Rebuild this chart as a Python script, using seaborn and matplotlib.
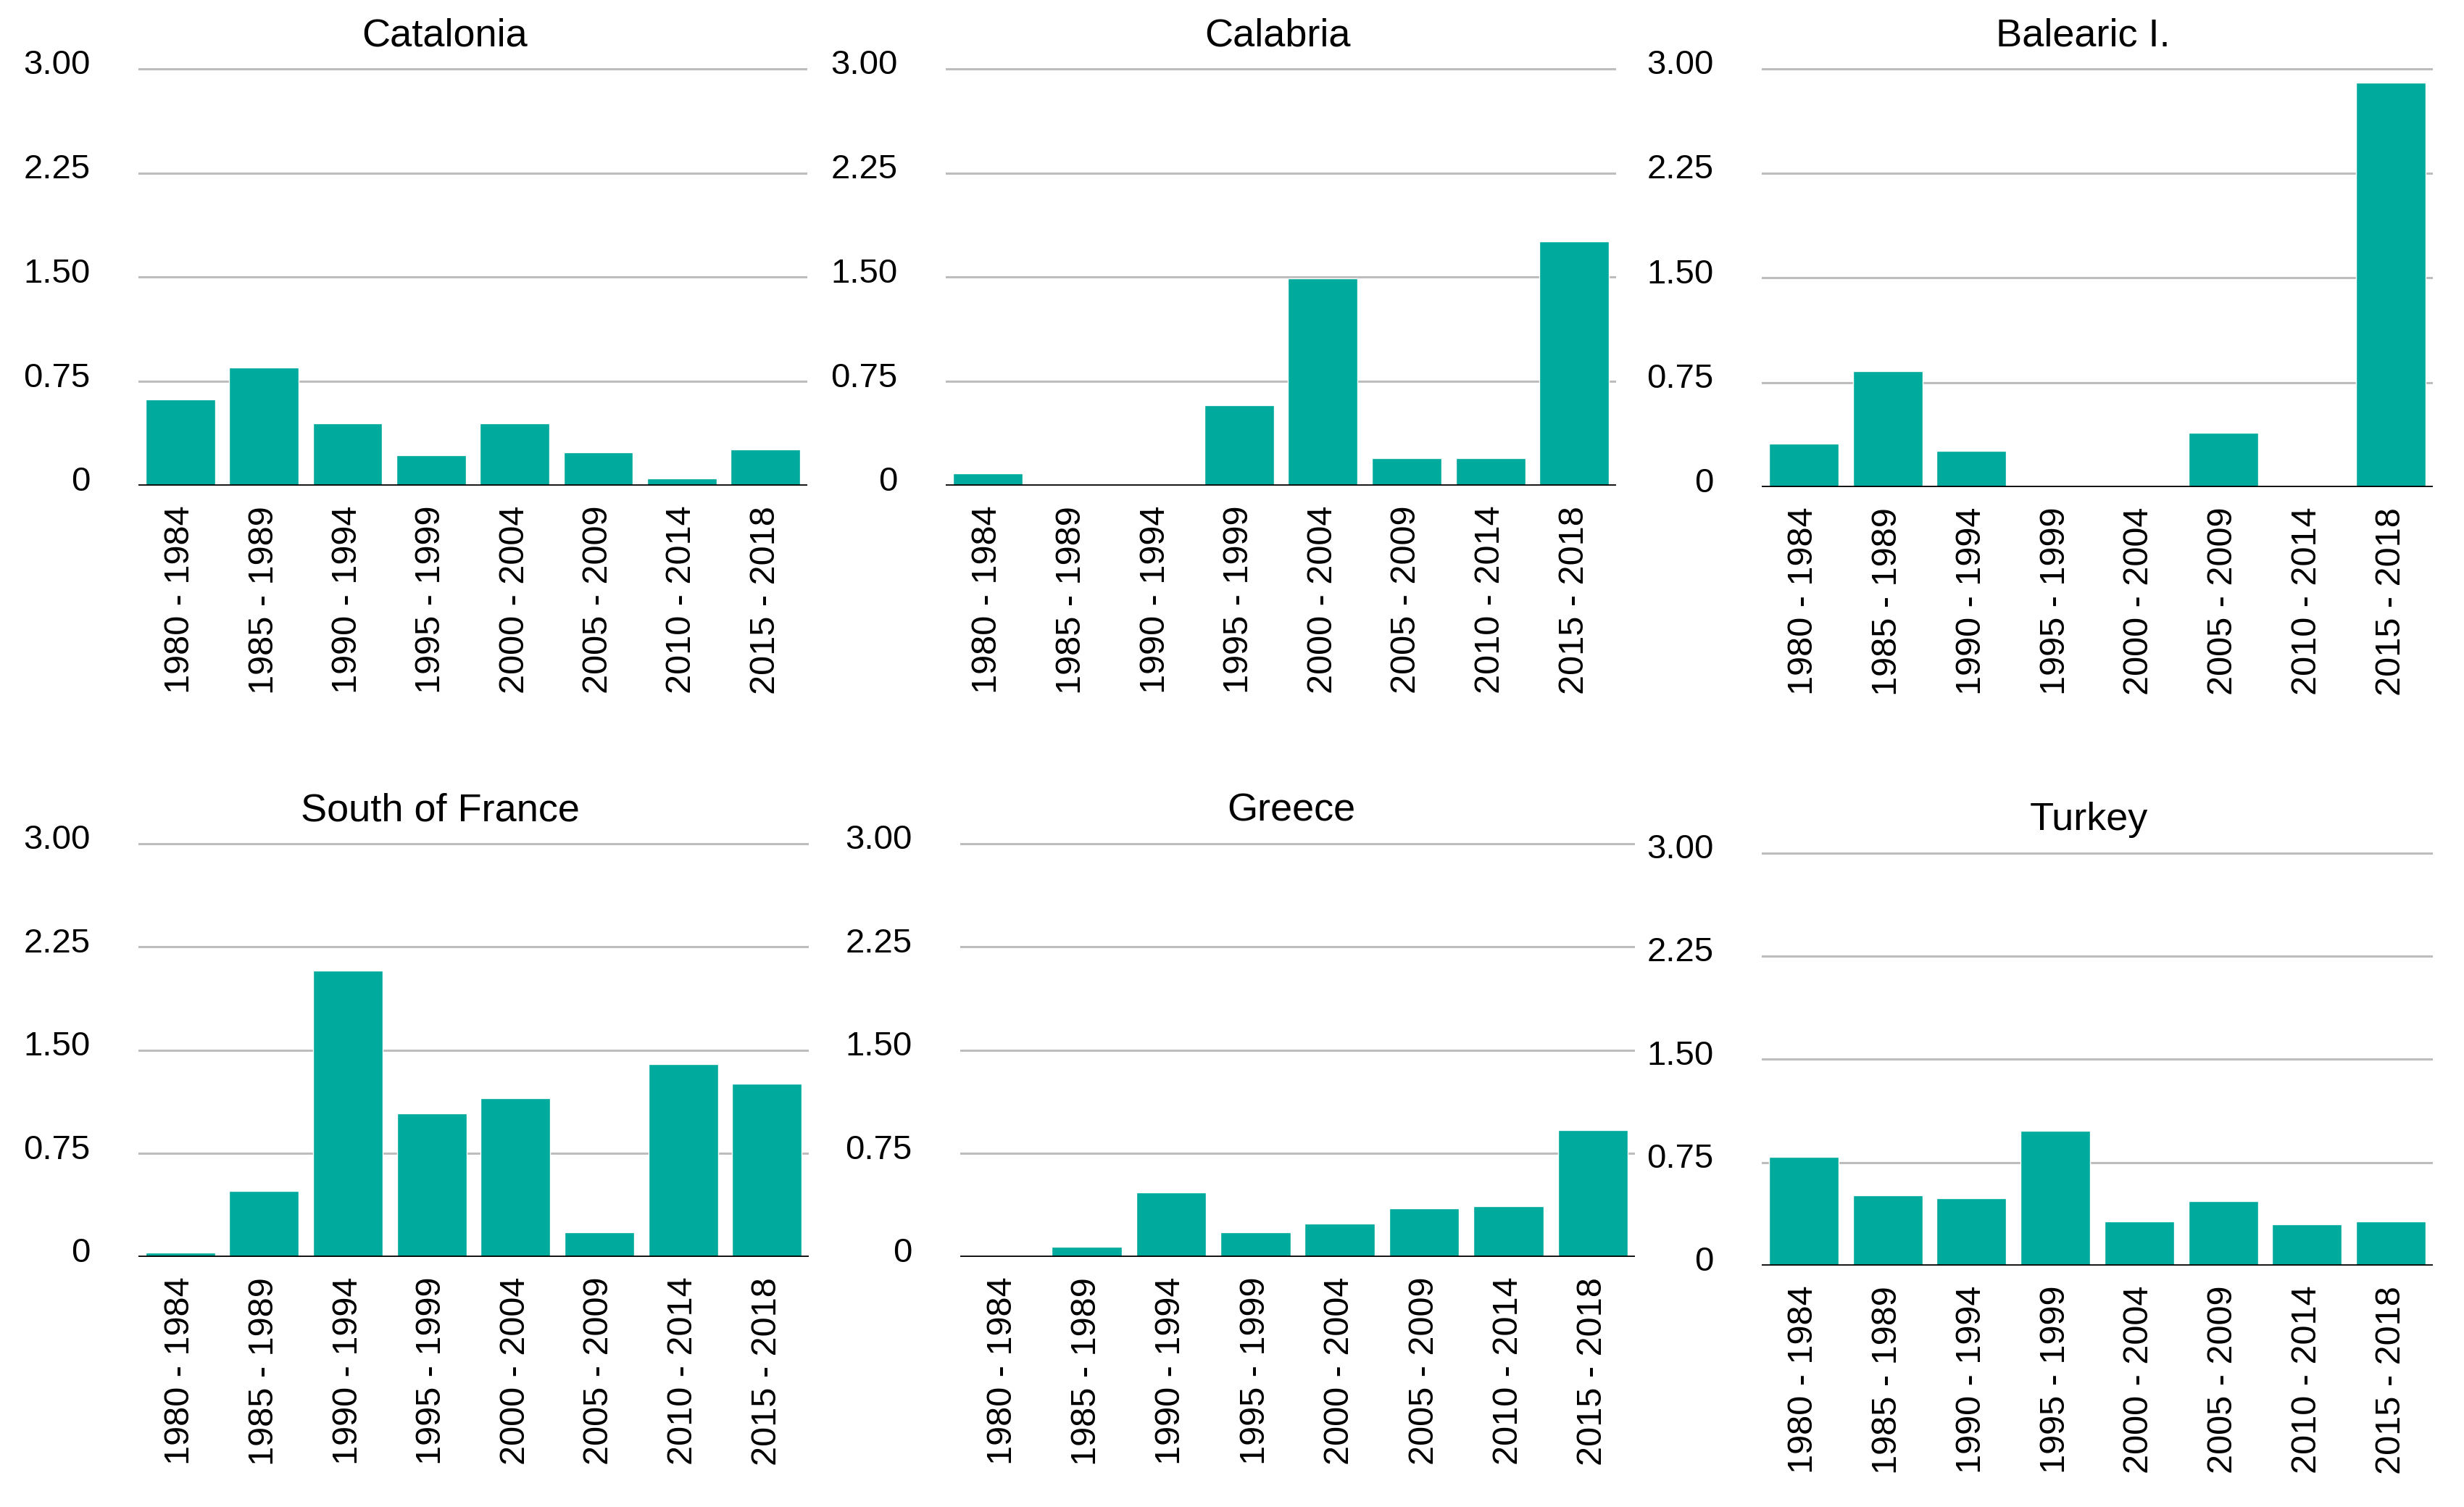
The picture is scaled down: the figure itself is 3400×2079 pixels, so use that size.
import matplotlib
matplotlib.use("Agg")
import matplotlib.pyplot as plt
import matplotlib.transforms as mtransforms
import pandas as pd
import seaborn as sns

sns.set_theme(style="white")
plt.rcParams["font.family"] = ["Liberation Sans", "DejaVu Sans"]

# -----------------------------------
# Data
# -----------------------------------
periods = ["1980 - 1984", "1985 - 1989", "1990 - 1994", "1995 - 1999",
           "2000 - 2004", "2005 - 2009", "2010 - 2014", "2015 - 2018"]

catalonia = [0.62, 0.85, 0.45, 0.22, 0.45, 0.24, 0.05, 0.26]
calabria = [0.09, 0.0, 0.0, 0.58, 1.49, 0.20, 0.20, 1.76]
balearic = [0.31, 0.83, 0.26, 0.0, 0.0, 0.39, 0.0, 2.90]
south_france = [0.03, 0.48, 2.08, 1.04, 1.15, 0.18, 1.40, 1.26]
greece = [0.0, 0.075, 0.47, 0.18, 0.24, 0.35, 0.37, 0.92]
turkey = [0.79, 0.51, 0.49, 0.98, 0.32, 0.47, 0.30, 0.32]

regions = ["Catalonia", "Calabria", "Balearic I.", "South of France", "Greece", "Turkey"]
series = [catalonia, calabria, balearic, south_france, greece, turkey]

yticks = [0, 0.75, 1.5, 2.25, 3.0]
ytick_labels = ["0", "0.75", "1.50", "2.25", "3.00"]

BAR_COLOR = "#00AA9C"
GRID_COLOR = "#BDBDBD"

W, H = 3400, 2079
# axes boxes in pixels: x0, x1, y_top, y_bottom, title x (axes fraction)
boxes = [
    (191, 1114, 94, 670, 0.458),
    (1305, 2230, 94, 670, 0.495),
    (2431, 3357, 94, 672, 0.479),
    (191, 1116, 1163, 1734, 0.450),
    (1325, 2256, 1163, 1734, 0.491),
    (2431, 3357, 1176, 1746, 0.488),
]

fig = plt.figure(figsize=(W / 100, H / 100), dpi=100)

for name, vals, (x0, x1, yt, yb, tx) in zip(regions, series, boxes):
    ax = fig.add_axes([x0 / W, 1 - yb / H, (x1 - x0) / W, (yb - yt) / H])
    df = pd.DataFrame({"period": periods, "value": vals})
    sns.barplot(data=df, x="period", y="value", ax=ax, color=BAR_COLOR,
                width=0.83, saturation=1, zorder=3)
    ax.axhline(0, color="black", lw=2.6, zorder=4)

    ax.set_xlim(-0.5, 7.5)
    ax.set_ylim(0, 3.005)
    ax.set_yticks(yticks)
    ax.set_yticklabels(ytick_labels)
    ax.yaxis.grid(True, color=GRID_COLOR, lw=2.2, zorder=0)
    ax.xaxis.grid(False)
    ax.set_axisbelow(True)
    for s in ax.spines.values():
        s.set_visible(False)

    ax.tick_params(axis="y", length=0, pad=48, labelsize=34, labelcolor="black")
    ax.tick_params(axis="x", length=0, pad=20, labelsize=35, labelcolor="black",
                   labelrotation=90)
    offset = mtransforms.ScaledTranslation(0, 7 / 72, fig.dpi_scale_trans)
    for lab in ax.get_yticklabels():
        lab.set_transform(lab.get_transform() + offset)

    ax.set_xlabel("")
    ax.set_ylabel("")
    ax.set_title(name, fontsize=39, pad=22, color="black", x=tx)

fig.savefig("out.png", dpi=100, facecolor="white")
